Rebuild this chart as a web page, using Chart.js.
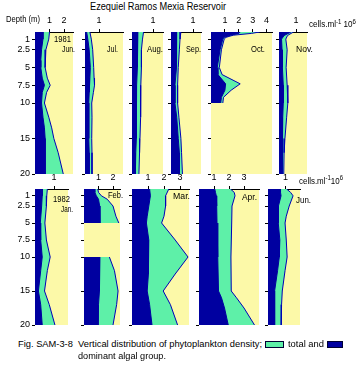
<!DOCTYPE html>
<html>
<head>
<meta charset="utf-8">
<script src="https://cdn.jsdelivr.net/npm/chart.js@4.4.0/dist/chart.umd.min.js"></script>
<style>
  html, body { margin: 0; padding: 0; background: #fff; }
  #fig { position: relative; width: 362px; height: 370px; overflow: hidden; font-family: "Liberation Sans", Arial, sans-serif; color: #000; }
  #fig canvas { position: absolute; }
  .txt { position: absolute; white-space: pre; line-height: 1; transform-origin: 0 50%; }
  .txt sup { font-size: 75%; vertical-align: 0; position: relative; top: -0.45em; }
  .box { position: absolute; box-sizing: border-box; border: 1px solid #003; }
</style>
</head>
<body>
<div id="fig"></div>
<script>
// depth ticks shared by every panel (m)
const depthTicks = [1, 2.5, 5, 7.5, 10, 15, 20];

// 1981 (cells.ml-1 x 10^6)
const jun81Depth = [0, 1, 2.5, 4, 5, 6.5, 7.5, 8.5, 10, 12, 13.5, 15, 17, 20];
const jun81Dominant = [0.55, 0.55, 0.45, 0.4, 0.4, 0.5, 0.65, 0.5, 0.45, 0.55, 0.65, 0.7, 0.7, 0.7];
const jun81Total = [1.0, 0.95, 0.75, 0.7, 0.7, 0.85, 1.05, 0.8, 0.65, 0.95, 1.15, 1.3, 1.6, 1.95];
const jun81Ticks = [1, 2];

const jul81Depth = [0, 1, 2.5, 5, 6.5, 7.5, 8.5, 10, 12, 15, 17, 20];
const jul81Dominant = [0.12, 0.2, 0.3, 0.38, 0.35, 0.3, 0.3, 0.27, 0.27, 0.27, 0.3, 0.3];
const jul81Total = [0.35, 0.45, 0.55, 0.62, 0.65, 0.68, 0.6, 0.48, 0.5, 0.48, 0.5, 0.5];
const jul81Ticks = [1];

const aug81Depth = [0, 1, 2.5, 5, 7.5, 10, 12, 15, 17, 20];
const aug81Dominant = [0.28, 0.28, 0.25, 0.24, 0.22, 0.22, 0.2, 0.2, 0.18, 0.16];
const aug81Total = [0.55, 0.5, 0.45, 0.45, 0.42, 0.42, 0.4, 0.38, 0.36, 0.33];
const aug81Ticks = [1];

const sep81Depth = [0, 1, 2.5, 5, 7.5, 10, 12, 15, 17, 20];
const sep81Dominant = [0.26, 0.26, 0.26, 0.23, 0.18, 0.18, 0.26, 0.33, 0.38, 0.38];
const sep81Total = [0.45, 0.41, 0.38, 0.33, 0.3, 0.3, 0.36, 0.45, 0.48, 0.52];
const sep81Ticks = [1];

const oct81Depth = [0, 0.2, 0.45, 0.75, 1, 2.5, 5, 6, 7.3, 8.2, 9.2, 10];
const oct81Dominant = [2.1, 2.0, 1.4, 0.95, 0.85, 0.65, 0.45, 0.5, 1.05, 1.0, 0.75, 0.7];
const oct81Total = [3.5, 2.9, 1.6, 1.08, 0.95, 0.75, 0.6, 0.8, 2.1, 1.45, 0.9, 0.85];
const oct81Ticks = [1, 2, 3, 4];

const nov81Depth = [0, 0.5, 1, 2.5, 5, 7.5, 10, 12, 15, 17, 20];
const nov81Dominant = [0.7, 0.3, 0.15, 0.18, 0.2, 0.25, 0.25, 0.22, 0.2, 0.18, 0.18];
const nov81Total = [0.85, 0.5, 0.4, 0.48, 0.42, 0.48, 0.52, 0.45, 0.35, 0.3, 0.28];
const nov81Ticks = [1];

// 1982
const jan82Depth = [0, 1, 2.5, 5, 7.5, 10, 12, 15, 17, 20];
const jan82Dominant = [0.38, 0.38, 0.35, 0.28, 0.3, 0.38, 0.3, 0.18, 0.3, 0.38];
const jan82Total = [0.65, 0.62, 0.6, 0.52, 0.6, 0.8, 0.65, 0.5, 0.75, 1.05];
const jan82Ticks = [1];

// Feb has no samples between 5 and 10 m
const feb82UpperDepth = [0, 0.5, 1, 1.5, 2.5, 4, 5];
const feb82UpperDominant = [0.7, 0.75, 0.85, 1.0, 1.08, 1.1, 1.1];
const feb82UpperTotal = [0.95, 1.0, 1.2, 1.6, 2.0, 2.2, 2.4];
const feb82LowerDepth = [10, 12, 15, 17, 20];
const feb82LowerDominant = [1.1, 1.08, 1.05, 1.0, 0.97];
const feb82LowerTotal = [1.75, 2.1, 2.35, 2.25, 2.0];
const feb82Ticks = [1, 2];

const mar82Depth = [0, 1, 2.5, 4, 5, 7.5, 10, 12.5, 15, 17, 20];
const mar82Dominant = [1.1, 1.15, 1.05, 0.95, 0.9, 1.05, 1.05, 1.0, 0.95, 1.1, 1.25];
const mar82Total = [2.3, 2.1, 2.1, 2.0, 1.85, 2.7, 3.5, 2.7, 1.95, 2.4, 2.85];
const mar82Ticks = [1, 2, 3];

const apr82Depth = [0, 0.5, 1, 2.5, 5, 10, 15, 16, 17.5, 20];
const apr82Dominant = [1.05, 1.1, 1.15, 1.18, 1.2, 1.25, 1.3, 1.5, 1.7, 1.95];
const apr82Total = [2.1, 2.35, 2.4, 2.2, 2.18, 2.13, 2.15, 2.5, 3.0, 3.7];
const apr82Ticks = [1, 2, 3];

const jun82Depth = [0, 0.5, 1, 2.5, 4, 5, 7.5, 10, 12, 15, 17, 20];
const jun82Dominant = [0.7, 0.72, 0.75, 0.6, 0.6, 0.58, 0.68, 0.65, 0.55, 0.38, 0.38, 0.38];
const jun82Total = [1.07, 1.3, 1.44, 1.22, 1.05, 0.98, 1.05, 1.1, 0.98, 0.82, 0.78, 0.76];
const jun82Ticks = [1];

const BLUE = '#0000a0';
const GREEN = '#5ef0a8';
const YELLOW = '#fcf9a8';
const EDGE = '#0000b8';
const FONT = '"Liberation Sans", Arial, sans-serif';

const fig = document.getElementById('fig');
Chart.defaults.font.family = FONT;

function seg(depth, dom, tot) { return { depth, dom, tot }; }

// panel boxes in page pixels; ppu = pixels per 10^6 cells
const TOP1 = 32, H1 = 142, TOP2 = 189, H2 = 136;
const panels = [
  { segs: [seg(jun81Depth, jun81Dominant, jun81Total)], ticks: jun81Ticks, left: 35, top: TOP1, w: 38, h: H1, ppu: 14.5, depthText: true },
  { segs: [seg(jul81Depth, jul81Dominant, jul81Total)], ticks: jul81Ticks, left: 85, top: TOP1, w: 38, h: H1, ppu: 14 },
  { segs: [seg(aug81Depth, aug81Dominant, aug81Total)], ticks: aug81Ticks, left: 132, top: TOP1, w: 31, h: H1, ppu: 21 },
  { segs: [seg(sep81Depth, sep81Dominant, sep81Total)], ticks: sep81Ticks, left: 171, top: TOP1, w: 30, h: H1, ppu: 22 },
  { segs: [seg(oct81Depth, oct81Dominant, oct81Total)], ticks: oct81Ticks, left: 211, top: TOP1, w: 61, h: H1, ppu: 13.9 },
  { segs: [seg(nov81Depth, nov81Dominant, nov81Total)], ticks: nov81Ticks, left: 279, top: TOP1, w: 28, h: H1, ppu: 17 },
  { segs: [seg(jan82Depth, jan82Dominant, jan82Total)], ticks: jan82Ticks, left: 35, top: TOP2, w: 33, h: H2, ppu: 19, depthText: true },
  { segs: [seg(feb82UpperDepth, feb82UpperDominant, feb82UpperTotal), seg(feb82LowerDepth, feb82LowerDominant, feb82LowerTotal)], ticks: feb82Ticks, left: 84, top: TOP2, w: 36, h: H2, ppu: 14.5 },
  { segs: [seg(mar82Depth, mar82Dominant, mar82Total)], ticks: mar82Ticks, left: 132, top: TOP2, w: 57, h: H2, ppu: 16 },
  { segs: [seg(apr82Depth, apr82Dominant, apr82Total)], ticks: apr82Ticks, left: 199, top: TOP2, w: 60, h: H2, ppu: 15 },
  { segs: [seg(jun82Depth, jun82Dominant, jun82Total)], ticks: jun82Ticks, left: 268, top: TOP2, w: 32, h: H2, ppu: 17.4 }
];

const panelBackground = {
  id: 'panelBackground',
  beforeDraw(chart) {
    const { ctx, chartArea: a } = chart;
    ctx.save();
    ctx.fillStyle = YELLOW;
    ctx.fillRect(a.left, a.top, a.right - a.left, a.bottom - a.top);
    ctx.restore();
  }
};

function makePanel(p) {
  const L = p.depthText ? 34 : 6, T = 20, R = 5, B = 12;
  const canvas = document.createElement('canvas');
  canvas.width = L + p.w + R;
  canvas.height = T + p.h + B;
  Object.assign(canvas.style, {
    left: (p.left - L) + 'px', top: (p.top - T) + 'px',
    width: canvas.width + 'px', height: canvas.height + 'px'
  });
  fig.append(canvas);

  // dominant first so it is drawn last, on top of the total area
  const datasets = [];
  p.segs.forEach(s => datasets.push({
    data: s.depth.map((d, i) => ({ x: s.dom[i], y: d })),
    fill: 'origin', backgroundColor: BLUE, borderColor: BLUE, borderWidth: 1, pointRadius: 0
  }));
  p.segs.forEach(s => datasets.push({
    data: s.depth.map((d, i) => ({ x: s.tot[i], y: d })),
    fill: 'origin', backgroundColor: GREEN, borderColor: EDGE, borderWidth: 1, pointRadius: 0
  }));

  new Chart(canvas, {
    type: 'line',
    data: { datasets },
    options: {
      indexAxis: 'y',
      responsive: false,
      animation: false,
      devicePixelRatio: 1,
      layout: { padding: { top: 0, left: 0, right: R, bottom: B } },
      elements: { line: { tension: 0 } },
      plugins: { legend: { display: false }, tooltip: { enabled: false } },
      scales: {
        x: {
          type: 'linear', position: 'top', min: 0, max: p.w / p.ppu,
          afterBuildTicks: s => { s.ticks = p.ticks.map(v => ({ value: v })); },
          afterFit: s => { s.height = T; },
          ticks: { font: { size: 9 }, color: '#000', padding: 3, maxRotation: 0, autoSkip: false },
          grid: { drawOnChartArea: false, tickLength: 3, color: '#000' },
          border: { display: true, color: '#000' }
        },
        y: {
          type: 'linear', reverse: true, min: 0, max: 20,
          afterBuildTicks: s => { s.ticks = depthTicks.map(v => ({ value: v })); },
          afterFit: s => { s.width = L; },
          ticks: { display: !!p.depthText, font: { size: 9 }, color: '#000', padding: 2, autoSkip: false },
          grid: { drawOnChartArea: false, tickLength: 3, color: '#000' },
          border: { display: false }
        }
      }
    },
    plugins: [panelBackground]
  });
}

panels.forEach(makePanel);

// text placed by left x, vertical centre, font size and measured width in the figure
function addText(html, x, cy, size, w) {
  const d = document.createElement('div');
  d.className = 'txt';
  d.innerHTML = html;
  d.style.fontSize = size + 'px';
  d.style.left = x + 'px';
  d.style.top = (cy - size / 2) + 'px';
  fig.append(d);
  if (w) d.style.transform = `scaleX(${w / d.getBoundingClientRect().width})`;
}

function addBox(x, y, w, h, color) {
  const b = document.createElement('div');
  b.className = 'box';
  Object.assign(b.style, { left: x + 'px', top: y + 'px', width: w + 'px', height: h + 'px', background: color });
  fig.append(b);
}

addText('Ezequiel Ramos Mexia Reservoir', 90, 7, 10, 136);
addText('Depth (m)', 6, 19.5, 9, 34);
addText('cells.ml<sup>-1</sup> 10<sup>6</sup>', 309, 24.5, 9, 47);
addText('cells.ml<sup>-1</sup>10<sup>6</sup>', 299, 181, 9, 44);

addText('1981', 54, 39, 9, 17);
addText('Jun.', 62, 49.5, 9, 13);
addText('Jul.', 107, 49.5, 9, 11);
addText('Aug.', 147, 49.5, 9, 16);
addText('Sep.', 186, 49.5, 9, 15);
addText('Oct.', 251, 49.5, 9, 14);
addText('Nov.', 296, 49.5, 9, 17);

addText('1982', 53, 199, 9, 17);
addText('Jan.', 61, 209, 9, 12);
addText('Feb.', 108, 195, 9, 15);
addText('Mar.', 173, 196, 9, 17);
addText('Apr.', 242, 197, 9, 15);
addText('Jun.', 296, 200, 9, 15);

addText('Fig. SAM-3-8  Vertical distribution of phytoplankton density;', 18, 344, 9, 244);
addBox(265, 341, 19, 7, GREEN);
addText('total and', 288, 344, 9, 36);
addBox(327, 341, 16, 7, BLUE);
addText('dominant algal group.', 78, 356, 9, 88);
</script>
</body>
</html>
